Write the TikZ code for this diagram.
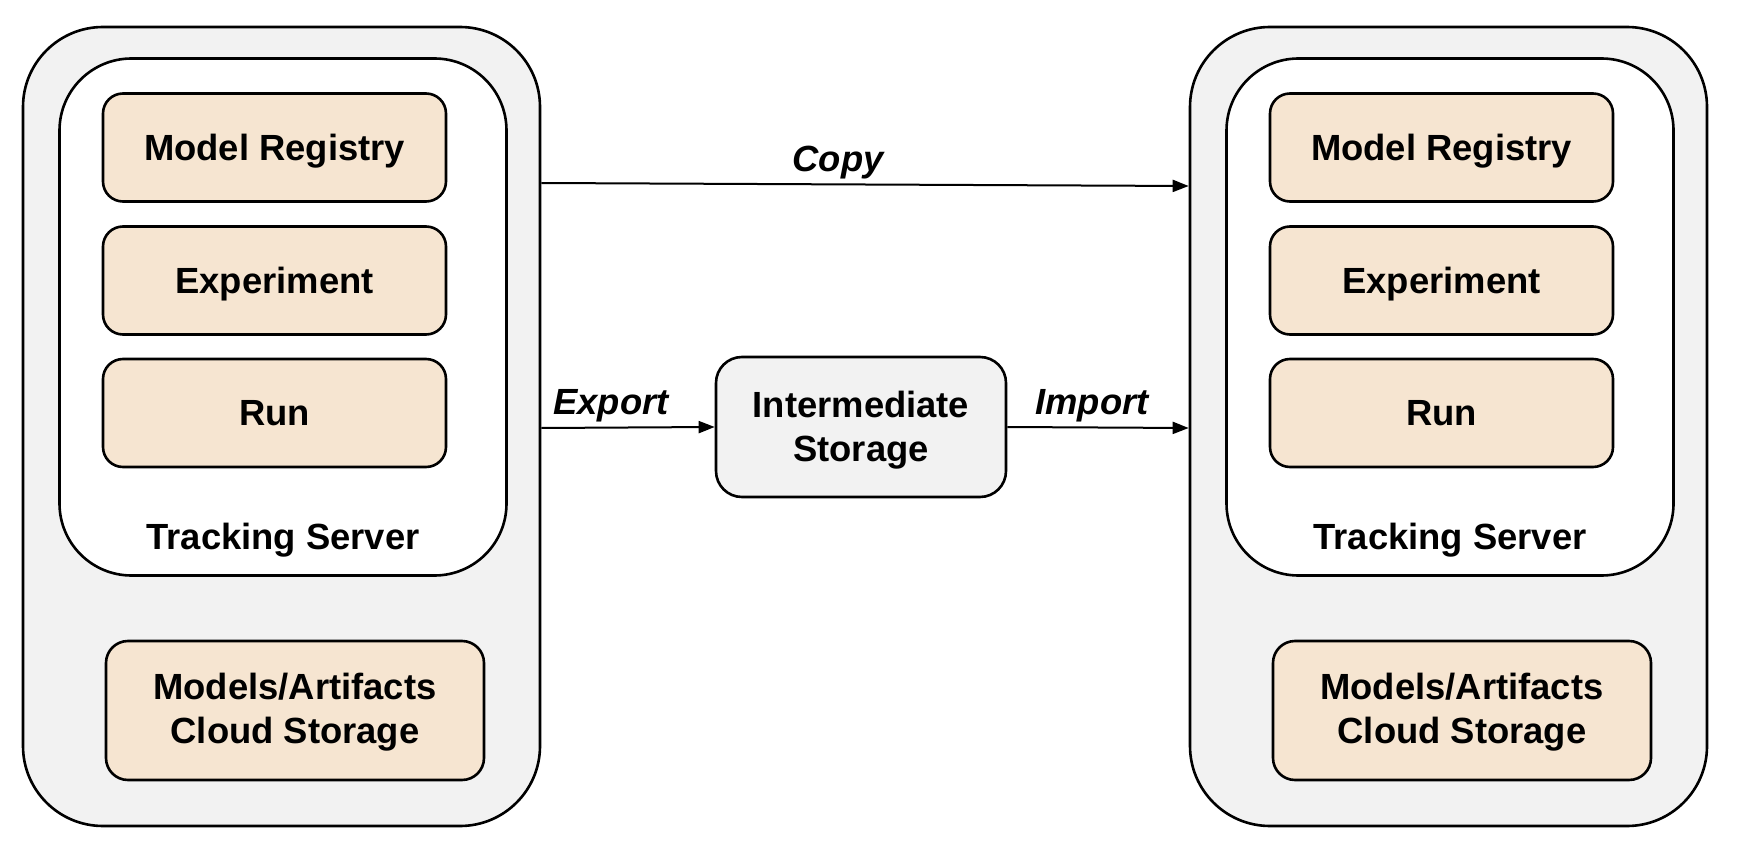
\documentclass[tikz,border=0pt]{standalone}
\usepackage{fontspec}
\setmainfont{Liberation Sans}
\usetikzlibrary{arrows.meta}
\definecolor{graybg}{RGB}{242,242,242}
\definecolor{peach}{RGB}{246,229,209}
\tikzset{
  outerbox/.style={draw, fill=graybg, line width=1.3pt, rounded corners=40pt, minimum width=258.5pt, minimum height=399.5pt, inner sep=0pt},
  innerbox/.style={draw, fill=white, line width=1.3pt, rounded corners=36pt, minimum width=223.5pt, minimum height=258.5pt, inner sep=0pt},
  itembox/.style={draw, fill=peach, line width=1.3pt, rounded corners=10pt, minimum width=171.5pt, minimum height=54pt, inner sep=0pt, text height=16.5pt, text depth=3.9pt, font=\fontsize{18.2pt}{22pt}\selectfont\bfseries},
  storebox/.style={draw, fill=peach, line width=1.3pt, rounded corners=11pt, minimum width=189pt, minimum height=69.5pt, inner sep=0pt, align=center, font=\fontsize{18.2pt}{21.8pt}\selectfont\bfseries},
  midbox/.style={draw, fill=graybg, line width=1.3pt, rounded corners=13pt, minimum width=145pt, minimum height=70pt, inner sep=0pt, align=center, font=\fontsize{18.2pt}{22.3pt}\selectfont\bfseries},
  label/.style={font=\fontsize{18.2pt}{22pt}\selectfont\bfseries, inner sep=0pt},
  edgelabel/.style={font=\fontsize{18.2pt}{22pt}\selectfont\bfseries\itshape, inner sep=0pt},
  conn/.style={line width=1pt, -{Triangle[length=8pt,width=6pt]}}
}
\begin{document}
\begin{tikzpicture}[x=0.5pt,y=-0.5pt]
\useasboundingbox (0,0) rectangle (1740,866);
% left server
\node[outerbox] (lo) at (281.5,426.5) {};
\node[innerbox] (li) at (283,317) {};
\node[itembox] (lmr) at (274.5,147.5) {Model Registry};
\node[itembox] (lex) at (274.5,280.5) {Experiment};
\node[itembox] (lrun) at (274.5,413) {Run};
\node[label] (lts) at (283,540) {Tracking Server};
\node[storebox] (lst) at (295,710.5) {\rule{0pt}{14.8pt}Models/Artifacts\\Cloud Storage};
% right server
\node[outerbox] (ro) at (1448.5,426.5) {};
\node[innerbox] (ri) at (1450,317) {};
\node[itembox] (rmr) at (1441.5,147.5) {Model Registry};
\node[itembox] (rex) at (1441.5,280.5) {Experiment};
\node[itembox] (rrun) at (1441.5,413) {Run};
\node[label] (rts) at (1450,540) {Tracking Server};
\node[storebox] (rst) at (1462,710.5) {\rule{0pt}{14.8pt}Models/Artifacts\\Cloud Storage};
% intermediate
\node[midbox] (is) at (861,427) {\rule{0pt}{16.2pt}Intermediate\\Storage};
% connectors
\coordinate (cs) at (lo.east |- 0,183);
\coordinate (ce) at (ro.west |- 0,186);
\draw[conn] (cs) -- (ce);
\node[edgelabel] (copy) at (838,163) {Copy};
\coordinate (es) at (lo.east |- 0,428);
\draw[conn] (es) -- (is.west);
\node[edgelabel] (export) at (611,406) {Export};
\coordinate (ie) at (ro.west |- 0,428);
\draw[conn] (is.east) -- (ie);
\node[edgelabel] (import) at (1092,406) {Import};
\end{tikzpicture}
\end{document}
